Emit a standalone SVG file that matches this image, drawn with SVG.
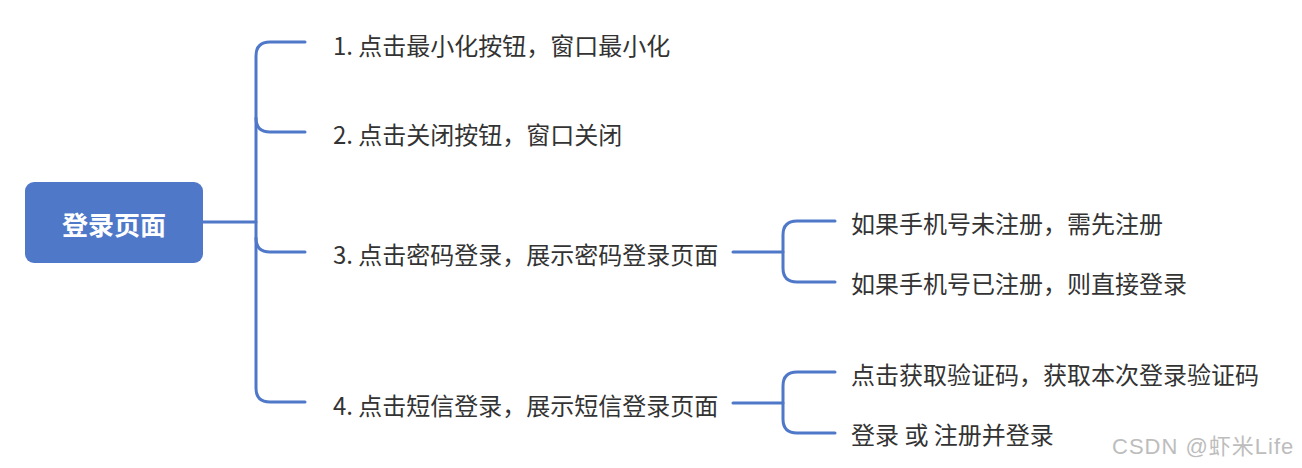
<svg xmlns="http://www.w3.org/2000/svg" width="1302" height="468" viewBox="0 0 1302 468">
<style>
.bg{fill:#ffffff}
.conn path{fill:none;stroke:#4f78c8;stroke-width:3;stroke-linecap:round}
.root rect{fill:#4f78c8}
.root text{fill:#ffffff;font-family:"Noto Sans CJK SC",sans-serif;font-size:26px;font-weight:bold;text-anchor:middle;dominant-baseline:central}
.lbl{fill:#333333;font-family:"Noto Sans CJK SC",sans-serif;font-size:24px;dominant-baseline:central}
.wm{fill:#bdbdbd;font-family:"Liberation Sans","Noto Sans CJK SC",sans-serif;font-size:22px;letter-spacing:1px;dominant-baseline:central}
</style>
<rect class="bg" x="0" y="0" width="1302" height="468"/>
<g id="connectors" class="conn">
<path d="M203,222 H256"/>
<path d="M305,42 H270 Q256,42 256,56 V388 Q256,402 270,402 H305"/>
<path d="M256,118 Q256,132 270,132 H305"/>
<path d="M256,238 Q256,252 270,252 H305"/>
<path d="M733,252 H783"/>
<path d="M835,221 H797 Q783,221 783,235 V268 Q783,282 797,282 H835"/>
<path d="M733,403 H783"/>
<path d="M835,372 H797 Q783,372 783,386 V419 Q783,433 797,433 H835"/>
</g>
<g id="root" class="root">
<rect x="25" y="182" width="178" height="81" rx="9"/>
<text x="114" y="223">登录页面</text>
</g>
<g id="n1"><text class="lbl" x="333" y="44">1. 点击最小化按钮，窗口最小化</text></g>
<g id="n2"><text class="lbl" x="333" y="133">2. 点击关闭按钮，窗口关闭</text></g>
<g id="n3"><text class="lbl" x="333" y="253">3. 点击密码登录，展示密码登录页面</text></g>
<g id="n4"><text class="lbl" x="333" y="404">4. 点击短信登录，展示短信登录页面</text></g>
<g id="n3a"><text class="lbl" x="851" y="222">如果手机号未注册，需先注册</text></g>
<g id="n3b"><text class="lbl" x="851" y="282">如果手机号已注册，则直接登录</text></g>
<g id="n4a"><text class="lbl" x="851" y="373">点击获取验证码，获取本次登录验证码</text></g>
<g id="n4b"><text class="lbl" x="851" y="433">登录 或 注册并登录</text></g>
<text class="wm" x="1112" y="446">CSDN @虾米Life</text>
</svg>
